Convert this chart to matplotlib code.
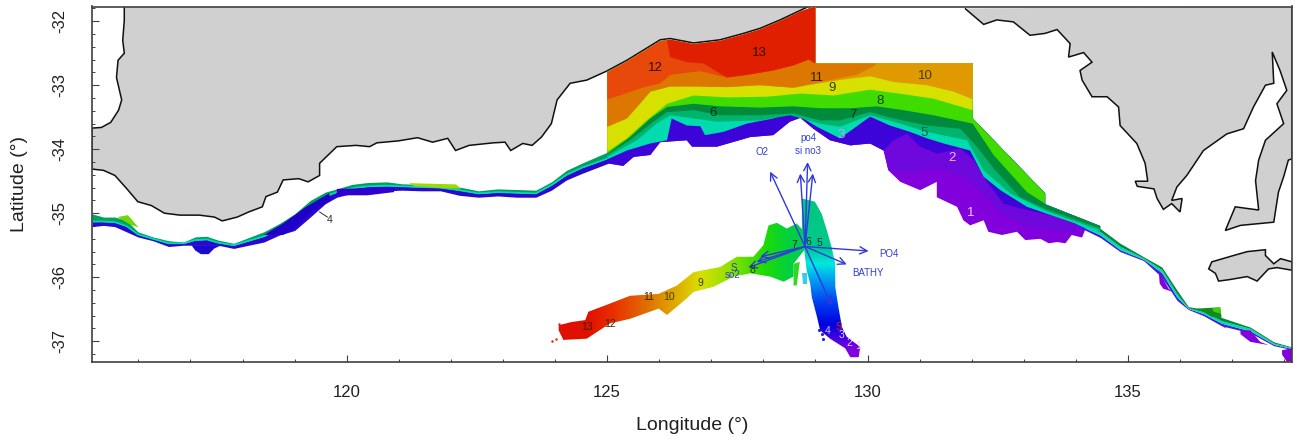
import numpy as np
import matplotlib
matplotlib.use('Agg')
import matplotlib.pyplot as plt
from matplotlib.colors import LinearSegmentedColormap
from matplotlib.patches import Polygon

plt.rcParams['font.family'] = ['Liberation Sans', 'DejaVu Sans']
plt.rcParams['axes.unicode_minus'] = False

# --- land outlines (lon, lat)
main_lon = [115.73, 115.73, 115.70, 115.73, 115.61, 115.58, 115.68, 115.62, 115.47, 115.29, 115.11,
            115.11, 115.33, 115.55, 115.77, 115.99, 116.25, 116.50, 116.80, 117.17, 117.46, 117.61, 117.90,
            118.12, 118.38, 118.45, 118.67, 118.78, 119.08, 119.26, 119.48, 119.48, 119.81, 120.18, 120.44,
            120.58, 120.99, 121.36, 121.65, 121.94, 122.09, 122.35, 122.82, 123.04, 123.15, 123.38, 123.56,
            123.74, 123.93, 124.04, 124.29, 124.61, 124.99, 125.38, 125.70, 126.02, 126.21, 126.66, 127.17,
            127.62, 127.94, 128.32, 128.71, 128.87]
main_lat = [-31.77, -31.98, -32.30, -32.50, -32.61, -32.88, -33.23, -33.39, -33.58, -33.66, -33.67,
            -34.31, -34.33, -34.41, -34.61, -34.82, -34.88, -35.00, -35.03, -35.03, -35.06, -35.12, -35.06,
            -34.98, -34.90, -34.74, -34.67, -34.48, -34.46, -34.51, -34.41, -34.22, -33.96, -33.94, -33.96,
            -33.90, -33.87, -33.82, -33.89, -33.83, -34.02, -33.94, -33.90, -33.89, -34.02, -33.91, -33.94,
            -33.81, -33.60, -33.23, -32.97, -32.92, -32.78, -32.61, -32.45, -32.29, -32.27, -32.34, -32.29,
            -32.19, -32.11, -31.98, -31.83, -31.77]
east_lon = [131.87, 132.23, 132.48, 132.80, 133.12, 133.41, 133.64, 133.89, 133.86, 134.15, 134.31, 134.08,
            134.12, 134.31, 134.60, 134.82, 134.85, 135.17, 135.33, 135.38, 135.14, 135.18, 135.50, 135.56,
            135.68, 135.84, 136.00, 136.04, 135.84, 135.94, 136.13, 136.45, 136.90, 137.22, 137.41, 137.64,
            137.80, 137.77, 137.92, 138.05, 137.86, 137.99, 137.64, 137.51, 137.45, 137.51, 137.06, 136.87,
            137.16, 137.80, 137.89, 137.99, 138.08, 138.15, 138.15]
east_lat = [-31.80, -32.05, -31.98, -32.01, -32.22, -32.19, -32.13, -32.35, -32.56, -32.49, -32.64, -32.77,
            -32.92, -33.18, -33.18, -33.34, -33.63, -33.91, -34.22, -34.50, -34.50, -34.58, -34.62, -34.77,
            -34.94, -34.85, -34.98, -34.77, -34.80, -34.59, -34.41, -34.02, -33.76, -33.68, -33.34, -33.00,
            -32.97, -32.48, -32.77, -33.08, -33.29, -33.60, -33.86, -34.17, -34.49, -34.95, -34.90, -35.27,
            -35.19, -35.14, -34.67, -34.43, -34.17, -34.15, -31.77]
island_lon = [136.55, 136.61, 137.03, 137.29, 137.64, 137.64, 137.80, 137.93, 138.15, 138.15, 137.86, 137.70, 137.48,
              137.29, 136.93, 136.74, 136.68]
island_lat = [-35.87, -35.76, -35.66, -35.60, -35.57, -35.66, -35.79, -35.71, -35.76, -35.89, -35.85, -35.87, -36.06,
              -35.99, -36.04, -36.06, -35.94]

# --- survey area outline
outer_lon = [125.00, 125.31, 125.51, 125.83, 126.02, 126.53, 126.63, 127.11, 127.75, 128.19, 128.51, 128.71,
             128.96, 129.28, 129.67, 130.05, 130.31, 130.40, 130.63, 131.01, 131.33, 131.33, 131.72, 131.84,
             131.97, 132.23, 132.32, 132.58, 132.87, 133.03, 133.32, 133.48, 133.64, 133.80, 133.92, 134.12,
             134.21, 134.47]
outer_lat = [-34.22, -34.26, -34.12, -34.09, -33.89, -33.86, -33.96, -33.96, -33.81, -33.78, -33.57, -33.51,
             -33.68, -33.86, -33.94, -33.91, -34.02, -34.33, -34.51, -34.64, -34.51, -34.75, -34.90, -35.11,
             -35.19, -35.11, -35.29, -35.34, -35.29, -35.42, -35.40, -35.47, -35.45, -35.47, -35.34, -35.38,
             -35.19, -35.32]
top_lon = [125.00, 125.00, 125.38, 125.70, 126.02, 126.21, 126.66, 127.17, 127.62, 127.94, 128.32, 128.71, 129.00,
           129.00, 132.02, 132.02, 133.41, 133.41, 134.47]
top_lat = [-34.22, -32.80, -32.63, -32.47, -32.31, -32.29, -32.36, -32.31, -32.21, -32.13, -32.00, -31.85, -31.77,
           -32.66, -32.66, -33.52, -34.69, -34.86, -35.20]

# --- depth zone lower boundaries
violet_lon = [130.00, 130.40, 130.88, 131.33, 131.84, 132.29, 132.55, 133.06, 134.00]
violet_lat = [-34.33, -34.33, -34.38, -34.30, -34.43, -34.75, -35.01, -35.21, -35.30]
blue_lon = [125.00, 130.00, 130.31, 130.50, 130.76, 131.01, 131.33, 131.78, 132.04, 132.29, 132.61, 133.06, 133.70, 134.28]
blue_lat = [-34.60, -34.60, -34.02, -33.86, -33.76, -33.96, -34.07, -33.99, -34.17, -34.51, -34.85, -34.95, -35.06, -35.21]
teal_lon = [125.00, 125.38, 125.83, 126.15, 126.24, 126.53, 126.79, 126.88, 127.23, 127.68, 128.19, 128.45, 128.71,
            129.03, 129.47, 129.73, 130.05, 130.43, 130.82, 131.14, 131.46, 131.97, 132.23, 132.55, 133.06, 133.70, 134.47]
teal_lat = [-34.16, -34.02, -33.91, -33.86, -33.52, -33.63, -33.64, -33.78, -33.73, -33.60, -33.52, -33.44, -33.49,
            -33.65, -33.83, -33.68, -33.49, -33.63, -33.73, -33.83, -33.91, -34.02, -34.43, -34.64, -34.90, -35.08, -35.29]
midgreen_lon = [125.00, 125.57, 125.95, 126.21, 126.66, 127.11, 127.94, 128.51, 129.09, 129.47, 129.73, 130.05, 130.50,
                131.14, 131.91, 132.23, 132.74, 133.41, 134.47]
midgreen_lat = [-34.12, -33.86, -33.60, -33.47, -33.52, -33.57, -33.55, -33.47, -33.60, -33.65, -33.57, -33.47, -33.57,
                -33.73, -33.86, -34.33, -34.69, -34.96, -35.27]
darkgreen_lon = [125.00, 125.44, 125.89, 126.15, 126.66, 127.17, 127.94, 128.58, 129.09, 129.47, 129.73, 130.05, 130.50,
                 131.14, 131.78, 132.10, 132.42, 132.93, 133.41, 134.47]
darkgreen_lat = [-34.09, -33.86, -33.57, -33.42, -33.39, -33.47, -33.47, -33.44, -33.55, -33.55, -33.49, -33.42, -33.52,
                 -33.63, -33.68, -33.96, -34.30, -34.75, -34.93, -35.24]
green_lon = [125.00, 125.44, 125.83, 126.15, 126.66, 127.17, 127.94, 128.58, 129.09, 129.67, 130.18, 130.69, 131.27,
             132.02, 132.42, 133.06, 133.41, 134.47]
green_lat = [-34.07, -33.81, -33.52, -33.34, -33.29, -33.33, -33.35, -33.33, -33.36, -33.36, -33.33, -33.39, -33.47,
             -33.60, -34.09, -34.67, -34.85, -35.19]
yellow_lon = [125.00, 125.38, 125.76, 126.15, 126.66, 127.30, 128.07, 128.71, 129.35, 130.05, 130.69, 131.27, 132.02]
yellow_lat = [-34.04, -33.83, -33.55, -33.29, -33.16, -33.19, -33.18, -33.13, -33.16, -33.07, -33.14, -33.21, -33.39]
gold_lon = [125.00, 125.38, 125.63, 125.83, 126.21, 126.66, 127.30, 127.94, 128.58, 129.09, 129.54, 130.05, 130.50,
            131.14, 131.65, 132.02]
gold_lat = [-33.65, -33.52, -33.29, -33.10, -33.02, -33.02, -33.03, -33.00, -33.04, -32.97, -32.91, -32.86, -32.95,
            -33.00, -33.10, -33.22]
orange_lon = [125.00, 125.38, 125.63, 125.83, 126.21, 126.66, 127.30, 127.94, 128.58, 129.09, 129.79, 130.15, 130.18]
orange_lat = [-33.65, -33.52, -33.29, -33.10, -33.02, -33.02, -33.03, -33.00, -33.04, -32.95, -32.84, -32.69, -32.60]
redorange_lon = [125.00, 125.25, 125.63, 126.02, 126.21, 126.79, 127.30, 127.68, 128.19, 128.58, 128.87, 129.00]
redorange_lat = [-33.22, -33.16, -33.05, -32.97, -32.84, -32.78, -32.88, -32.84, -32.77, -32.69, -32.60, -32.66]
red_lon = [126.15, 126.21, 126.53, 126.85, 127.30, 127.68, 128.19, 128.58, 128.87, 129.00]
red_lat = [-32.30, -32.56, -32.64, -32.66, -32.88, -32.84, -32.77, -32.69, -32.60, -32.66]

# --- narrow shelf west of the survey
shelf_lon = [115.11, 115.33, 115.55, 115.77, 115.99, 116.28, 116.58, 116.87, 117.09, 117.31, 117.53, 117.83, 118.12,
             118.41, 118.71, 119.00, 119.30, 119.59, 119.81, 120.10, 120.40, 120.77, 121.06, 121.43, 121.80, 122.16,
             122.53, 122.90, 123.27, 123.63, 123.93, 124.22, 124.51, 125.02]
shelf_top = [-35.01, -35.06, -35.06, -35.11, -35.29, -35.37, -35.43, -35.45, -35.37, -35.36, -35.42, -35.47, -35.38,
             -35.29, -35.16, -35.01, -34.80, -34.67, -34.62, -34.55, -34.52, -34.51, -34.54, -34.55, -34.55, -34.59,
             -34.65, -34.62, -34.63, -34.64, -34.51, -34.33, -34.22, -34.04]
shelf_mid = [-35.13, -35.13, -35.14, -35.20, -35.33, -35.40, -35.47, -35.47, -35.42, -35.41, -35.46, -35.50, -35.43,
             -35.36, -35.24, -35.10, -34.90, -34.74, -34.67, -34.61, -34.58, -34.57, -34.58, -34.59, -34.60, -34.64,
             -34.69, -34.67, -34.68, -34.69, -34.56, -34.40, -34.29, -34.14]
shelf_bot = [-35.21, -35.19, -35.21, -35.29, -35.37, -35.43, -35.52, -35.50, -35.50, -35.50, -35.50, -35.55, -35.50,
             -35.45, -35.34, -35.27, -35.06, -34.85, -34.75, -34.69, -34.67, -34.65, -34.64, -34.65, -34.65, -34.72,
             -34.75, -34.73, -34.75, -34.75, -34.64, -34.48, -34.38, -34.22]
blob1_lon = [117.02, 117.09, 117.20, 117.35, 117.46, 117.60]
blob1_lat = [-35.50, -35.58, -35.64, -35.64, -35.55, -35.50]
blob2_lon = [118.41, 118.78, 119.04, 119.30, 119.70, 119.66, 119.22, 118.78]
blob2_lat = [-35.34, -35.34, -35.21, -35.00, -34.80, -34.69, -34.90, -35.16]
blob3_lon = [119.81, 120.40, 120.91, 120.91, 119.81]
blob3_lat = [-34.72, -34.72, -34.67, -34.60, -34.62]
yellow1_lon = [115.60, 115.80, 116.00, 115.85]
yellow1_lat = [-35.06, -35.03, -35.22, -35.18]
yellow2_lon = [121.20, 122.10, 122.20, 121.30]
yellow2_lat = [-34.53, -34.55, -34.62, -34.58]

# --- shelf east of the survey
eshelf_lon = [133.41, 133.89, 134.47, 134.85, 135.30, 135.65, 135.94, 136.16, 136.45, 136.80, 137.35, 137.80, 138.15]
eshelf_top = [-34.86, -35.03, -35.24, -35.47, -35.68, -35.84, -36.20, -36.46, -36.50, -36.63, -36.78, -37.01, -37.09]
eshelf_mid = [-34.92, -35.08, -35.29, -35.52, -35.70, -35.88, -36.26, -36.48, -36.54, -36.68, -36.80, -37.03, -37.10]
eshelf_low = [-34.96, -35.12, -35.34, -35.57, -35.72, -35.93, -36.31, -36.49, -36.57, -36.72, -36.84, -37.05, -37.115]
eshelf_bot = [-34.98, -35.15, -35.38, -35.60, -35.74, -36.00, -36.36, -36.505, -36.60, -36.76, -36.87, -37.07, -37.13]
patch1_lon = [136.32, 136.77, 136.80, 136.61, 136.45]
patch1_lat = [-36.49, -36.47, -36.63, -36.62, -36.54]
patch2_lon = [136.61, 136.77, 136.79, 136.65]
patch2_lat = [-36.49, -36.47, -36.57, -36.54]
lobe_a_lon = [135.59, 135.78, 135.86, 135.68, 135.61]
lobe_a_lat = [-35.89, -36.18, -36.23, -36.18, -36.10]
lobe_b_lon = [137.16, 137.35, 137.54, 137.70, 137.35, 137.16]
lobe_b_lat = [-36.83, -36.83, -37.01, -37.06, -37.01, -36.89]
lobe_c_lon = [136.80, 136.93, 136.86]
lobe_c_lat = [-36.75, -36.77, -36.79]
lobe_d_lon = [137.96, 138.15, 138.15, 138.05, 137.96]
lobe_d_lat = [-37.14, -37.11, -37.32, -37.32, -37.21]

# --- ordination shape
arm_lon = [124.07, 124.32, 124.58, 124.64, 125.06, 125.44, 125.99, 126.34, 126.66, 127.17, 127.49, 127.81, 128.00,
           128.10, 128.26, 128.45, 128.64, 128.80, 128.83, 128.58, 128.58, 128.39, 128.13, 127.75, 127.43, 127.04,
           126.66, 126.53, 126.15, 125.99, 125.44, 125.06, 124.61, 124.16, 124.07]
arm_lat = [-36.75, -36.70, -36.67, -36.54, -36.41, -36.29, -36.26, -36.13, -35.92, -35.84, -35.68, -35.68, -35.50,
           -35.19, -35.15, -35.24, -35.16, -35.30, -35.53, -35.79, -35.99, -36.07, -35.99, -35.94, -35.99, -36.15,
           -36.23, -36.33, -36.59, -36.49, -36.65, -36.72, -36.96, -36.98, -36.83]
leg_lon = [128.74, 128.99, 129.12, 129.22, 129.31, 129.38, 129.38, 129.44, 129.51, 129.60, 129.86, 129.83, 129.67,
           129.57, 129.28, 129.09, 129.03, 128.93, 128.90, 128.83, 128.80, 128.74]
leg_lat = [-34.77, -34.82, -35.01, -35.27, -35.53, -35.79, -36.15, -36.46, -36.78, -36.93, -37.09, -37.25, -37.25,
           -37.11, -36.96, -36.83, -36.62, -36.31, -36.10, -35.89, -35.68, -35.27]
arm_stop_lon = [124.0, 124.61, 125.12, 125.76, 126.21, 126.79, 127.36, 128.0, 128.5, 129.0]
arm_stop_col = ['#e01000', '#e01000', '#e83000', '#e07000', '#e0a000', '#d8e000', '#90e000', '#20dc00', '#00d040', '#00c870']
leg_stop_lat = [-34.7, -35.55, -35.8, -36.05, -36.4, -36.75, -36.9, -37.15, -37.3]
leg_stop_col = ['#00c87c', '#00c88c', '#00e8e0', '#00a0f0', '#0040f0', '#0000e0', '#3000e0', '#8000e0', '#8000e0']
streak1_lon = [128.58, 128.70, 128.64, 128.58]
streak1_lat = [-35.79, -35.76, -36.13, -36.13]
streak2_lon = [128.74, 128.83, 128.83, 128.76]
streak2_lat = [-35.94, -35.94, -36.10, -36.10]
dots_red_lon = [123.94, 124.02, 124.07]
dots_red_lat = [-36.99, -36.97, -36.73]
dots_blue_lon = [129.06, 129.12, 129.15, 129.25]
dots_blue_lat = [-36.83, -36.88, -36.96, -36.83]

# --- vectors
vec_origin = (128.80, -35.52)
vec_lon = [128.13, 128.85, 128.71, 128.95, 130.02, 129.60, 129.31, 127.71, 127.87, 127.94]
vec_lat = [-34.35, -34.20, -34.38, -34.38, -35.59, -35.80, -36.44, -35.85, -35.76, -35.68]
vec_text = ['O2', 'po4', 'si no3', 'PO4', 'BATHY', 'so2']
vec_text_lon = [127.98, 128.86, 128.86, 130.42, 130.00, 127.40]
vec_text_lat = [-34.05, -33.83, -34.03, -35.63, -35.94, -35.97]

# --- zone numbers
zone_text = ['13', '12', '11', '10', '9', '8', '7', '6', '5', '3', '2', '1', '4']
zone_lon = [127.92, 125.92, 129.03, 131.11, 129.32, 130.24, 129.72, 127.04, 131.09, 129.49, 131.63, 131.99, 119.68]
zone_lat = [-32.50, -32.73, -32.88, -32.86, -33.05, -33.25, -33.47, -33.44, -33.75, -33.78, -34.13, -35.00, -35.11]
zone_col = ['#301000', '#301000', '#302000', '#404000', '#304000', '#104010', '#003010', '#003010', '#006050',
            '#c8a0f0', '#e0c0ff', '#e8c8ff', '#303030']
ord_text = ['13', '12', '11', '10', '9', '8', '7', '6', '5', '4', '3', '2', '1']
ord_lon = [124.62, 125.06, 125.79, 126.19, 126.79, 127.80, 128.59, 128.86, 129.07, 129.24, 129.51, 129.65, 129.82]
ord_lat = [-36.77, -36.73, -36.31, -36.31, -36.09, -35.89, -35.50, -35.45, -35.47, -36.84, -36.91, -37.02, -37.08]
ord_col = ['#402000', '#402000', '#402000', '#404000', '#404000', '#204000', '#003010', '#003030', '#003030',
           '#c0c0ff', '#e0d0ff', '#e0d0ff', '#e0d0ff']

x_ticks = [120, 125, 130, 135]
y_ticks = [-32, -33, -34, -35, -36, -37]

fig = plt.figure(figsize=(12.97, 4.45), dpi=100)
ax = fig.add_axes([92 / 1297, 1 - 361.7 / 445, 1200 / 1297, 355.2 / 445])

land_kw = dict(facecolor='#d0d0d0', edgecolor='#101010', linewidth=1.1, zorder=1)
ax.add_patch(Polygon(list(zip(main_lon, main_lat)), closed=False, **land_kw))
ax.add_patch(Polygon(list(zip(east_lon, east_lat)), closed=False, **land_kw))
ax.add_patch(Polygon(list(zip(island_lon, island_lat)), closed=True, **land_kw))


def strip(lons, upper, lower, color, z=2):
    ax.fill_between(lons, upper, lower, color=color, linewidth=0, zorder=z)


# survey area: painted deep to shallow, each zone everything north of its boundary
survey_xy = list(zip(top_lon, top_lat)) + list(zip(outer_lon[::-1], outer_lat[::-1]))
survey = Polygon(survey_xy, closed=True, facecolor='#8200dc', edgecolor='none', zorder=2)
ax.add_patch(survey)


def zone(lons, lats, color):
    xy = list(zip(lons, lats)) + [(lons[-1], -31.5), (lons[0], -31.5)]
    p = Polygon(xy, closed=True, facecolor=color, edgecolor='none', zorder=3)
    ax.add_patch(p)
    p.set_clip_path(survey)


zone(violet_lon, violet_lat, '#6f08dc')
zone(blue_lon, blue_lat, '#3c04d8')
zone(teal_lon, teal_lat, '#00dcb0')
zone(midgreen_lon, midgreen_lat, '#00b46e')
zone(darkgreen_lon, darkgreen_lat, '#008a3c')
zone(green_lon, green_lat, '#40dc00')
zone(yellow_lon, yellow_lat, '#d8e000')
zone(gold_lon, gold_lat, '#e09a00')
zone(orange_lon, orange_lat, '#dc7800')
zone(redorange_lon, redorange_lat, '#e8480a')
zone(red_lon, red_lat, '#e01e00')

# west shelf
strip(shelf_lon, shelf_mid, shelf_bot, '#2a08d0')
strip(shelf_lon, shelf_top, shelf_mid, '#00a060')
ax.plot(shelf_lon, shelf_mid, color='#00dcb0', linewidth=1.2, zorder=2)
for lo, la, c in [(blob1_lon, blob1_lat, '#1a0ad0'), (blob2_lon, blob2_lat, '#2000c8'),
                  (blob3_lon, blob3_lat, '#3000d0'), (yellow1_lon, yellow1_lat, '#70d800'),
                  (yellow2_lon, yellow2_lat, '#a0d800')]:
    ax.fill(lo, la, color=c, linewidth=0, zorder=2)

# east shelf
strip(eshelf_lon, eshelf_low, eshelf_bot, '#3a20e0')
strip(eshelf_lon, eshelf_mid, eshelf_low, '#00dcb0')
strip(eshelf_lon, eshelf_top, eshelf_mid, '#008a3c')
ax.fill(patch1_lon, patch1_lat, color='#108a20', linewidth=0, zorder=2)
ax.fill(patch2_lon, patch2_lat, color='#40d000', linewidth=0, zorder=2)
for lo, la in [(lobe_a_lon, lobe_a_lat), (lobe_b_lon, lobe_b_lat), (lobe_c_lon, lobe_c_lat), (lobe_d_lon, lobe_d_lat)]:
    ax.fill(lo, la, color='#8200dc', linewidth=0, zorder=2)


# ordination shape, colour ramps clipped to the outlines
def ramp(stops, colors, lo, hi):
    pos = (np.array(stops) - lo) / (hi - lo)
    return LinearSegmentedColormap.from_list('r', list(zip(pos, colors)))


arm_poly = Polygon(list(zip(arm_lon, arm_lat)), closed=True, facecolor='none', edgecolor='none')
leg_poly = Polygon(list(zip(leg_lon, leg_lat)), closed=True, facecolor='none', edgecolor='none')
ax.add_patch(arm_poly)
ax.add_patch(leg_poly)
grad = np.linspace(0, 1, 256)
im = ax.imshow(grad[None, :], extent=[124.0, 129.0, -37.3, -34.7], aspect='auto', zorder=3,
               cmap=ramp(arm_stop_lon, arm_stop_col, 124.0, 129.0), vmin=0, vmax=1)
im.set_clip_path(arm_poly)
im = ax.imshow(grad[:, None], extent=[128.0, 130.2, -37.3, -34.7], aspect='auto', zorder=3, origin='upper',
               cmap=ramp(leg_stop_lat[::-1], leg_stop_col[::-1], -37.3, -34.7).reversed(), vmin=0, vmax=1)
im.set_clip_path(leg_poly)
ax.fill(streak1_lon, streak1_lat, color='#30d820', linewidth=0, zorder=3)
ax.fill(streak2_lon, streak2_lat, color='#30d0e8', linewidth=0, zorder=3)
ax.scatter(dots_red_lon, dots_red_lat, s=3, color='#e02000', linewidths=0, zorder=3)
ax.scatter(dots_blue_lon, dots_blue_lat, s=5, color='#2020e0', linewidths=0, zorder=3)

for lo, la in zip(vec_lon, vec_lat):
    ax.annotate('', xy=(lo, la), xytext=vec_origin, zorder=5,
                arrowprops=dict(arrowstyle='->', color='#3038e0', lw=1.0, shrinkA=0, shrinkB=0, mutation_scale=13))
for s, lo, la in zip(vec_text, vec_text_lon, vec_text_lat):
    ax.text(lo, la, s, color='#3040d8', fontsize=7, ha='center', va='center', zorder=6)

for s, lo, la, c in zip(zone_text, zone_lon, zone_lat, zone_col):
    ax.text(lo, la, s, color=c, fontsize=9.5 if s != '4' else 7.5, ha='center', va='center', zorder=6)
for s, lo, la, c in zip(ord_text, ord_lon, ord_lat, ord_col):
    ax.text(lo, la, s, color=c, fontsize=7.5, ha='center', va='center', zorder=6)
ax.text(129.45, -36.78, 'S', color='#e02020', fontsize=7, ha='center', va='center', zorder=6)
ax.text(127.44, -35.85, 'S', color='#3040a0', fontsize=7, ha='center', va='center', zorder=6)
ax.plot([119.48, 119.63], [-34.98, -35.06], color='#303030', linewidth=0.7, zorder=3)

ax.set_xlim(115.11, 138.15)
ax.set_ylim(-37.32, -31.77)
ax.set_xticks(x_ticks)
ax.set_xticklabels([str(v) for v in x_ticks])
ax.set_yticks(y_ticks)
ax.set_yticklabels([str(v) for v in y_ticks], rotation=90, va='center')
ax.set_xticks(np.arange(116, 139), minor=True)
ax.set_yticks(np.arange(-37.2, -31.8, 0.2), minor=True)
ax.tick_params(which='major', direction='in', length=5, width=0.8, color='#404040', labelsize=12,
               labelcolor='#202020', pad=17)
ax.tick_params(which='minor', direction='in', length=2.5, width=0.7, color='#404040')
ax.tick_params(axis='y', which='major', pad=18)
ax.set_xlabel('Longitude (°)', fontsize=14, color='#202020', labelpad=12)
ax.set_ylabel('Latitude (°)', fontsize=14, color='#202020', labelpad=17)
for s in ax.spines.values():
    s.set_color('#404040')
    s.set_linewidth(1.2)

fig.savefig('out.png', dpi=100)
